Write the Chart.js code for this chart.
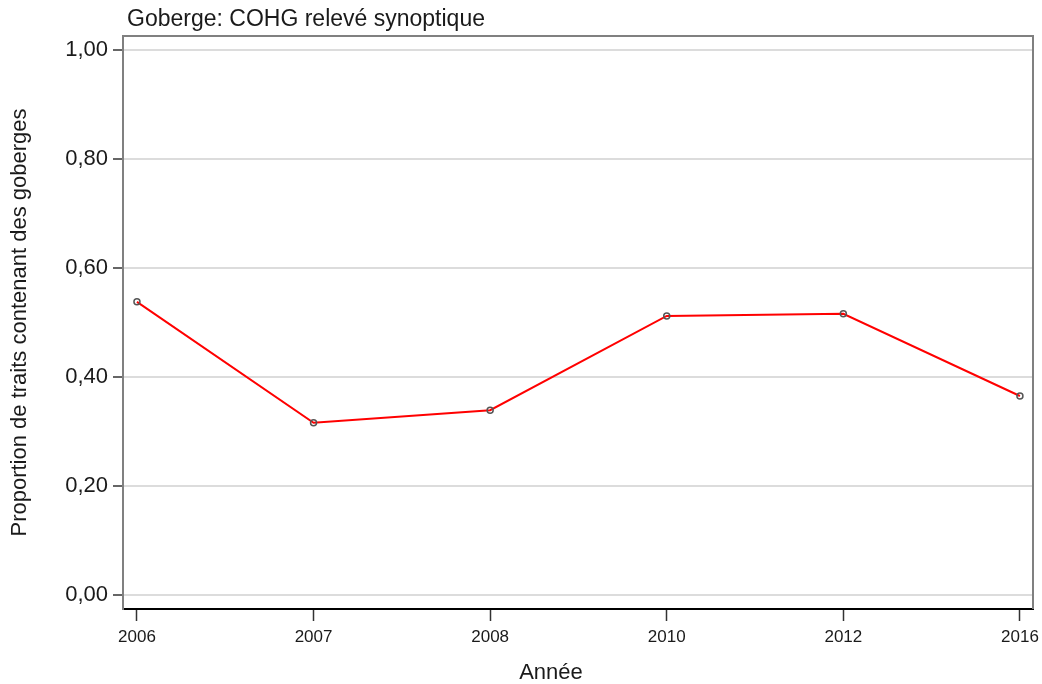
<!DOCTYPE html>
<html>
<head>
<meta charset="utf-8">
<script src="https://cdn.jsdelivr.net/npm/chart.js@4"></script>
<style>
  html, body { margin: 0; padding: 0; background: #fff; }
  #wrap { width: 1042px; height: 684px; }
</style>
</head>
<body>
<div id="wrap"><canvas id="myChart" width="1042" height="684"></canvas></div>
<script>
// data
const years = ['2006', '2007', '2008', '2010', '2012', '2016'];
const proportions = [0.538, 0.316, 0.339, 0.512, 0.516, 0.365];
const yTicks = [0, 0.2, 0.4, 0.6, 0.8, 1.0];

const chartTitle = 'Goberge: COHG relevé synoptique';
const yTitle = 'Proportion de traits contenant des goberges';
const xTitle = 'Année';

let points = [];
for (let i = 0; i < years.length; i++) {
    points.push({ x: i, y: proportions[i] });
}

const fontFamily = '"Liberation Sans", Arial, sans-serif';

// frame, chart title and x title drawn over the plot
const framePlugin = {
    id: 'frame',
    afterDraw(chart) {
        const { ctx, chartArea } = chart;
        ctx.save();
        ctx.strokeStyle = '#808080';
        ctx.lineWidth = 2;
        ctx.beginPath();
        ctx.moveTo(chartArea.left, chartArea.bottom);
        ctx.lineTo(chartArea.left, chartArea.top);
        ctx.lineTo(chartArea.right, chartArea.top);
        ctx.lineTo(chartArea.right, chartArea.bottom);
        ctx.stroke();
        ctx.fillStyle = '#1a1a1a';
        ctx.font = '23px ' + fontFamily;
        ctx.textBaseline = 'middle';
        ctx.textAlign = 'left';
        ctx.fillText(chartTitle, chartArea.left + 4, 20);
        ctx.font = '22px ' + fontFamily;
        ctx.textAlign = 'center';
        ctx.fillText(xTitle, 551, 673);
        ctx.restore();
    }
};

const config = {
    type: 'line',
    data: {
        datasets: [{
            data: points,
            borderColor: '#ff0000',
            borderWidth: 2,
            tension: 0,
            pointRadius: 3,
            pointHoverRadius: 3,
            pointBorderWidth: 1.5,
            pointBorderColor: '#555555',
            pointBackgroundColor: 'rgba(0,0,0,0)'
        }]
    },
    options: {
        responsive: false,
        animation: false,
        layout: { padding: { top: 36, right: 9, left: 0, bottom: 0 } },
        plugins: {
            legend: { display: false },
            tooltip: { enabled: false }
        },
        scales: {
            x: {
                type: 'linear',
                min: -0.079,
                max: 5.074,
                afterBuildTicks: function (scale) {
                    scale.ticks = years.map((y, i) => ({ value: i }));
                },
                afterFit: function (scale) {
                    scale.height = 75;
                    scale.paddingLeft = 0;
                    scale.paddingRight = 0;
                },
                grid: {
                    drawOnChartArea: false,
                    tickLength: 12,
                    tickColor: '#333333',
                    tickWidth: 1.5
                },
                border: { color: '#000000', width: 2 },
                ticks: {
                    autoSkip: false,
                    maxRotation: 0,
                    padding: 6,
                    color: '#1a1a1a',
                    font: { family: fontFamily, size: 17 },
                    callback: function (v) { return years[v]; }
                }
            },
            y: {
                min: -0.026,
                max: 1.026,
                afterBuildTicks: function (scale) {
                    scale.ticks = yTicks.map(v => ({ value: v }));
                },
                afterFit: function (scale) {
                    scale.width = 123;
                    scale.paddingTop = 0;
                    scale.paddingBottom = 0;
                },
                grid: {
                    color: '#dcdcdc',
                    lineWidth: 2,
                    tickLength: 10,
                    tickColor: '#333333',
                    tickWidth: 1.5
                },
                border: { color: '#808080', width: 2 },
                ticks: {
                    padding: 5,
                    color: '#1a1a1a',
                    font: { family: fontFamily, size: 22 },
                    callback: function (v) { return v.toFixed(2).replace('.', ','); }
                },
                title: {
                    display: true,
                    text: yTitle,
                    color: '#1a1a1a',
                    font: { family: fontFamily, size: 22, lineHeight: 1.2 },
                    padding: { top: 7, bottom: 0 }
                }
            }
        }
    },
    plugins: [framePlugin]
};

let chart = new Chart(document.getElementById('myChart').getContext('2d'), config);
</script>
</body>
</html>
